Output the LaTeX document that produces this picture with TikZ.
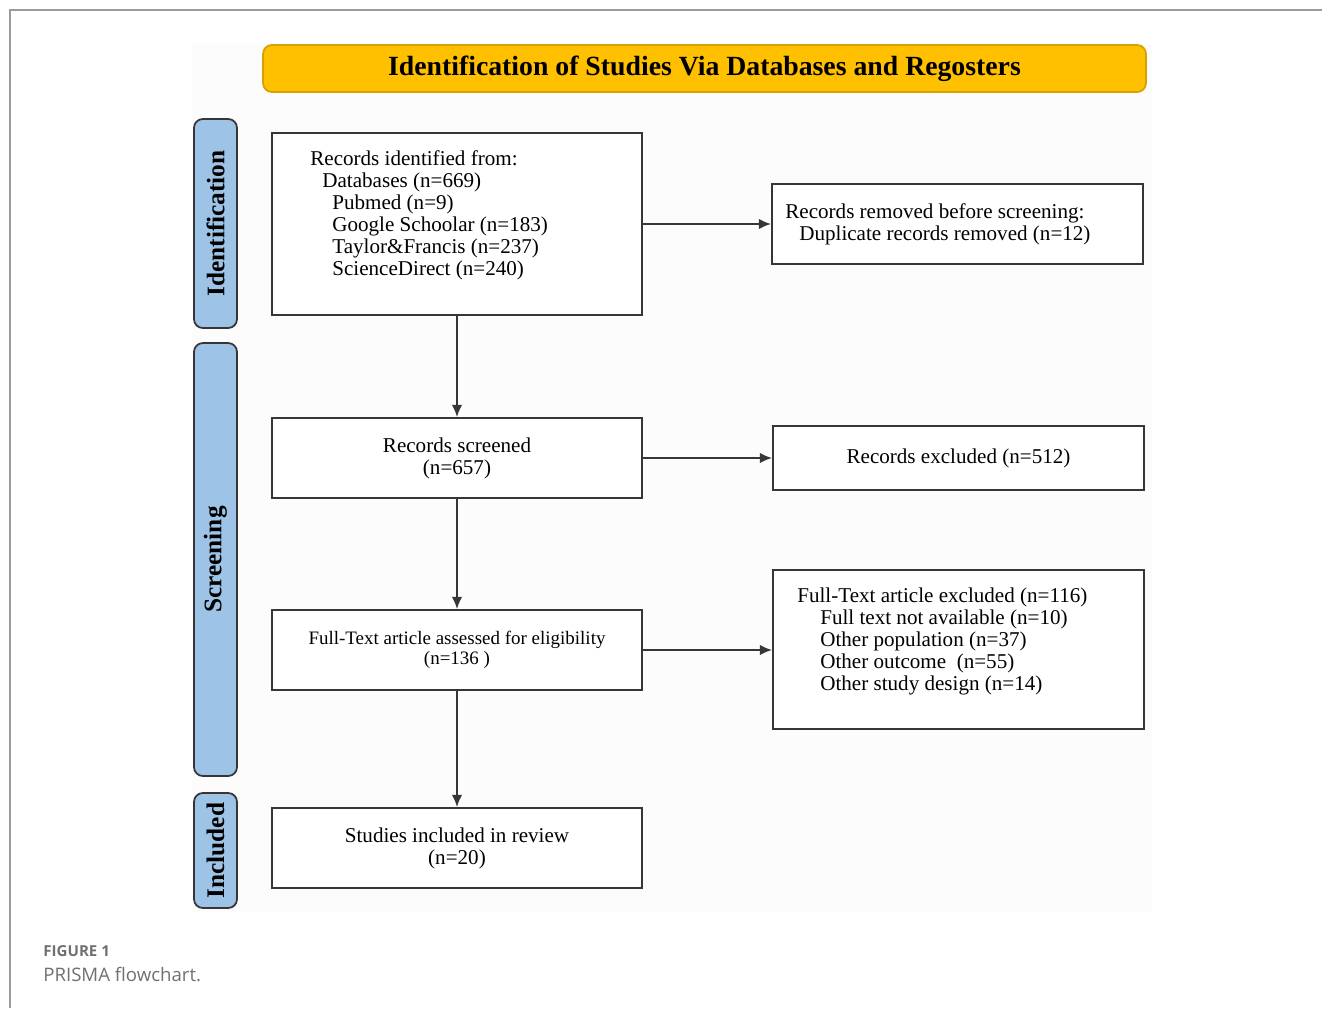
\documentclass[tikz,border=0pt]{standalone}
\usepackage{fontspec}
\setmainfont{Liberation Serif}
\newfontfamily\capfont{Open Sans}
\usetikzlibrary{arrows.meta}

\definecolor{headyellow}{HTML}{FFC000}
\definecolor{headedge}{HTML}{D6A000}
\definecolor{stageblue}{HTML}{9DC3E6}
\definecolor{boxline}{HTML}{3A3535}
\definecolor{capgrey}{HTML}{707070}

\tikzset{
  box/.style={draw=boxline, line width=1.1pt, fill=white, align=center,
    font=\fontsize{12}{12.5}\selectfont},
  stage/.style={draw=boxline, line width=1pt, fill=stageblue, rounded corners=5pt,
    rotate=90, minimum height=0.86cm, inner sep=1pt,
    font=\fontsize{14.4}{15}\selectfont\bfseries},
  flow/.style={-{Latex[length=7pt,width=6pt]}, draw=boxline, line width=1.1pt},
  txt/.style={anchor=north west, inner sep=0pt, align=left,
    font=\fontsize{12}{12.5}\selectfont}
}

\begin{document}
\begin{tikzpicture}[x=0.02cm,y=-0.02cm]
	\useasboundingbox (0,0) rectangle (1322,1008);
	%frame
	\draw[capgrey!70, line width=0.6pt] (10,1008) -- (10,10) -- (1322,10);
	\fill[black!1.2] (192,44) rectangle (1152,912);
	
	%header
	\node [draw=headedge, line width=1pt, fill=headyellow, rounded corners=5pt,
		minimum width=17.66cm, minimum height=0.94cm,
		font=\fontsize{15.8}{17}\selectfont\bfseries] (head) at (704.5,68.5)
		{Identification of Studies Via Databases and Regosters};
	
	%stages
	\node [stage, minimum width=4.18cm] (ident) at (215.5,223.5) {Identification};
	\node [stage, minimum width=8.66cm] (screen) at (215.5,559.5) {Screening};
	\node [stage, minimum width=2.3cm] (incl) at (215.5,850.5) {Included};
	
	%boxes
	\node [box, minimum width=7.4cm, minimum height=3.64cm] (found) at (457,224) {};
	\node [box, minimum width=7.42cm, minimum height=1.6cm] (removed) at (957.5,224) {};
	\node [box, minimum width=7.4cm, minimum height=1.6cm] (screened) at (457,458)
		{Records screened\\(n=657)};
	\node [box, minimum width=7.42cm, minimum height=1.28cm] (excluded) at (958.5,458)
		{Records excluded (n=512)};
	\node [box, minimum width=7.4cm, minimum height=1.6cm,
		font=\fontsize{10.8}{11.4}\selectfont] (assessed) at (457,650)
		{Full-Text article assessed for eligibility\\(n=136 )};
	\node [box, minimum width=7.42cm, minimum height=3.18cm] (textout) at (958.5,649.5) {};
	\node [box, minimum width=7.4cm, minimum height=1.6cm] (included) at (457,848)
		{Studies included in review\\(n=20)};
	
	%labels
	\node [txt] (foundtxt) at (310,150) {Records identified from:\\
		\hspace*{0.24cm}Databases (n=669)\\
		\hspace*{0.44cm}Pubmed (n=9)\\
		\hspace*{0.44cm}Google Schoolar (n=183)\\
		\hspace*{0.44cm}Taylor\&Francis (n=237)\\
		\hspace*{0.44cm}ScienceDirect (n=240)};
	\node [txt] (removedtxt) at (785,203) {Records removed before screening:\\
		\hspace*{0.28cm}Duplicate records removed (n=12)};
	\node [txt] (textouttxt) at (797,588) {Full-Text article excluded (n=116)\\
		\hspace*{0.46cm}Full text not available (n=10)\\
		\hspace*{0.46cm}Other population (n=37)\\
		\hspace*{0.46cm}Other outcome\ \ (n=55)\\
		\hspace*{0.46cm}Other study design (n=14)};
	
	%arrows
	\draw [flow] (found) -- (screened);
	\draw [flow] (screened) -- (assessed);
	\draw [flow] (assessed) -- (included);
	\draw [flow] (found) -- (removed);
	\draw [flow] (screened) -- (excluded);
	\draw [flow] (assessed.east) -- (assessed.east -| textout.west);
	
	%caption
	\node [anchor=west, inner sep=0pt, text=capgrey,
		font=\capfont\fontsize{8.6}{10}\selectfont\bfseries] (fig) at (43,951) {FIGURE 1};
	\node [anchor=west, inner sep=0pt, text=capgrey,
		font=\capfont\fontsize{10.6}{12}\selectfont] (figcap) at (43,974) {PRISMA flowchart.};
\end{tikzpicture}
\end{document}
